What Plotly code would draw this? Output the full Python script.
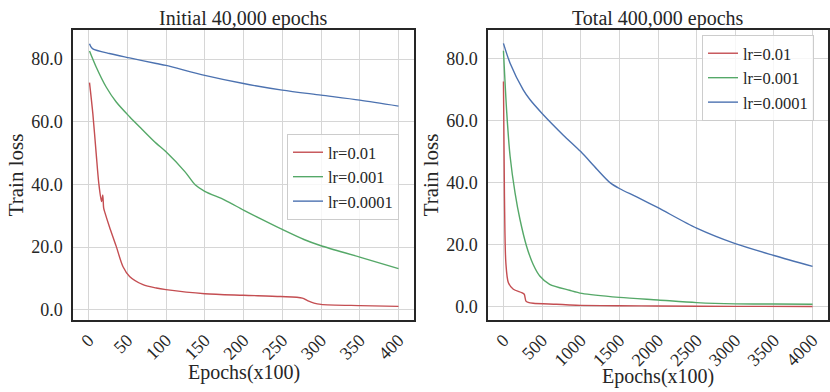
import plotly.graph_objects as go

# ---------------- data ----------------
series_names = ["lr=0.01", "lr=0.001", "lr=0.0001"]
colors = ["#C44E52", "#55A868", "#4C72B0"]

# Left panel: Initial 40,000 epochs (x in units of 100 epochs)
left_red_x = [1.3, 5.6, 9.9, 13.3, 16.8, 18.4, 19.6, 21.2, 27, 35.8, 44.4, 53, 70.3, 87.5, 100, 150, 200, 248, 276, 282.5, 291, 300, 350, 400]
left_red_y = [72.5, 62.6, 49.9, 40.3, 34.5, 36.6, 32.4, 31.0, 26.5, 20.2, 13.8, 10.6, 8.0, 6.9, 6.4, 5.1, 4.6, 4.2, 3.7, 2.9, 2.1, 1.7, 1.3, 1.06]

left_green_x = [1.3, 9.9, 22.8, 35.8, 53, 70.3, 87.5, 100, 124.6, 137.6, 150, 175.8, 200, 223, 250, 278, 300, 350, 400]
left_green_y = [82.6, 77.5, 71.1, 66.3, 61.6, 57.3, 53.1, 50.4, 44.0, 39.9, 37.8, 35.0, 31.8, 28.9, 25.6, 22.4, 20.4, 16.8, 13.1]

left_blue_x = [1.3, 3, 5.6, 27, 53, 87.5, 100, 150, 200, 250, 300, 350, 400]
left_blue_y = [84.9, 84.0, 83.3, 81.8, 80.4, 78.6, 78.0, 74.8, 72.2, 70.1, 68.5, 66.9, 65.0]

# Right panel: Total 400,000 epochs
right_red_x = [0, 13, 31, 64, 128, 236, 269, 280, 291, 320, 385, 685, 855, 1000, 1500, 2000, 3000, 4000]
right_red_y = [72.7, 35.7, 14.3, 7.8, 5.7, 4.6, 4.1, 3.0, 1.9, 1.5, 1.2, 0.87, 0.65, 0.5, 0.4, 0.3, 0.2, 0.15]

right_green_x = [0, 43, 86, 150, 214, 299, 385, 470, 598, 855, 1015, 1500, 2000, 2500, 3000, 3500, 4000]
right_green_y = [82.6, 62.5, 48.6, 36.8, 28.2, 19.6, 13.7, 10.0, 7.3, 5.4, 4.4, 3.1, 2.25, 1.4, 1.0, 0.95, 0.9]

right_blue_x = [0, 86, 256, 345, 500, 775, 1000, 1207, 1379, 1500, 1724, 2000, 2500, 3000, 3500, 4000]
right_blue_y = [85.0, 78.6, 70.0, 66.8, 62.4, 55.4, 50.1, 44.5, 40.1, 38.2, 35.5, 32.0, 25.4, 20.4, 16.6, 13.1]

left_ticks = [0, 50, 100, 150, 200, 250, 300, 350, 400]
right_ticks = [0, 500, 1000, 1500, 2000, 2500, 3000, 3500, 4000]
y_ticks = [0, 20, 40, 60, 80]

panel_titles = ["Initial 40,000 epochs", "Total 400,000 epochs"]
x_title = "Epochs(x100)"
y_title = "Train loss"

# ---------------- figure ----------------
FONT = "Liberation Serif, Times New Roman, serif"
TXT = "#262626"

fig = go.Figure()

left_data = [(left_red_x, left_red_y), (left_green_x, left_green_y), (left_blue_x, left_blue_y)]
right_data = [(right_red_x, right_red_y), (right_green_x, right_green_y), (right_blue_x, right_blue_y)]

for name, col, (xs, ys) in zip(series_names, colors, left_data):
    fig.add_trace(go.Scatter(x=xs, y=ys, mode="lines", name=name,
                             line=dict(color=col, width=1.4, shape="spline", smoothing=0.8),
                             xaxis="x", yaxis="y", legend="legend"))
for name, col, (xs, ys) in zip(series_names, colors, right_data):
    fig.add_trace(go.Scatter(x=xs, y=ys, mode="lines", name=name,
                             line=dict(color=col, width=1.4, shape="spline", smoothing=0.8),
                             xaxis="x2", yaxis="y2", legend="legend2"))

y_dom = [72 / 392, 362 / 392]
common_axis = dict(
    showline=True, mirror=True, linecolor="#262626", linewidth=1.5,
    showgrid=True, gridcolor="#d6d6d6", gridwidth=1,
    zeroline=False, ticks="outside", tickcolor="rgba(0,0,0,0)",
    tickfont=dict(family=FONT, size=18, color=TXT),
)

title_font = dict(family=FONT, size=20, color=TXT)

fig.update_layout(
    width=830, height=392,
    margin=dict(l=0, r=0, t=0, b=0),
    paper_bgcolor="white", plot_bgcolor="white",
    font=dict(family=FONT, color=TXT),
    xaxis=dict(common_axis, domain=[73 / 830, 414 / 830], range=[-20, 420],
               tickvals=left_ticks, tickangle=-45, ticklen=1, anchor="y"),
    yaxis=dict(common_axis, domain=y_dom, range=[-3.3, 89.3], tickvals=y_ticks,
               tickformat=".1f", ticklen=5, anchor="x",
               title=dict(text=y_title, font=dict(size=21, family=FONT, color=TXT), standoff=2)),
    xaxis2=dict(common_axis, domain=[488 / 830, 828 / 830], range=[-200, 4200],
                tickvals=right_ticks, tickangle=-45, ticklen=1, anchor="y2"),
    yaxis2=dict(common_axis, domain=y_dom, range=[-4.2, 89.3], tickvals=y_ticks,
                tickformat=".1f", ticklen=5, anchor="x2",
                title=dict(text=y_title, font=dict(size=21, family=FONT, color=TXT), standoff=2)),
    legend=dict(x=287 / 830, y=1 - 134 / 392, xanchor="left", yanchor="top",
                bgcolor="rgba(255,255,255,0.8)", bordercolor="#cccccc", borderwidth=1,
                font=dict(family=FONT, size=16.5, color=TXT)),
    legend2=dict(x=702 / 830, y=1 - 35 / 392, xanchor="left", yanchor="top",
                 bgcolor="rgba(255,255,255,0.8)", bordercolor="#cccccc", borderwidth=1,
                 font=dict(family=FONT, size=16.5, color=TXT)),
    annotations=[
        dict(text=panel_titles[0], x=(73 + 414) / 2 / 830, y=1 - 18 / 392, xref="paper", yref="paper",
             xanchor="center", yanchor="middle", showarrow=False, font=title_font),
        dict(text=panel_titles[1], x=(488 + 828) / 2 / 830, y=1 - 18 / 392, xref="paper", yref="paper",
             xanchor="center", yanchor="middle", showarrow=False, font=title_font),
        dict(text=x_title, x=(73 + 414) / 2 / 830, y=1 - 372 / 392, xref="paper", yref="paper",
             xanchor="center", yanchor="middle", showarrow=False, font=title_font),
        dict(text=x_title, x=(488 + 828) / 2 / 830, y=1 - 376 / 392, xref="paper", yref="paper",
             xanchor="center", yanchor="middle", showarrow=False, font=title_font),
    ],
)

fig.write_html("out.html")
